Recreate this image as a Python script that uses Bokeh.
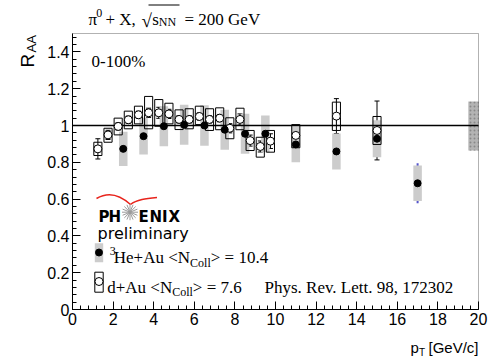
import math
from bokeh.plotting import figure
from bokeh.models import (Range1d, Label, Whisker, ColumnDataSource,
                          FixedTicker, TeeHead, Arrow, BoxAnnotation)
from bokeh.embed import file_html
from bokeh.resources import INLINE

# ---------------- data ----------------
dau_pt = [1.25, 1.75, 2.25, 2.75, 3.25, 3.75, 4.25, 4.75, 5.25, 5.75, 6.25,
          6.75, 7.25, 7.75, 8.25, 8.75, 9.25, 9.75, 11.0, 13.0, 15.0]
dau_r = [0.873, 0.949, 0.995, 1.031, 1.058, 1.069, 1.069, 1.063, 1.033, 1.033,
         1.049, 1.033, 1.040, 0.985, 1.033, 0.918, 0.886, 0.915, 0.946, 1.051, 0.973]
dau_sys_lo = [0.837, 0.909, 0.949, 0.982, 1.009, 0.982, 0.996, 1.009, 0.978, 0.982,
              1.005, 0.973, 0.977, 0.928, 0.977, 0.864, 0.828, 0.855, 0.879, 0.973, 0.897]
dau_sys_hi = [0.909, 0.985, 1.040, 1.078, 1.105, 1.158, 1.141, 1.121, 1.085, 1.091,
              1.105, 1.091, 1.096, 1.042, 1.094, 0.973, 0.936, 0.973, 1.005, 1.127, 1.049]
dau_stat = [0.055, 0.025, 0.02, 0.02, 0.02, 0.025, 0.03, 0.025, 0.02, 0.02,
            0.02, 0.02, 0.02, 0.025, 0.03, 0.03, 0.03, 0.04, 0.03, 0.095, 0.16]

he_pt = [2.5, 3.5, 4.5, 5.5, 6.5, 7.5, 8.5, 9.5, 11.0, 13.0, 15.0, 17.0]
he_r = [0.873, 0.942, 0.996, 1.004, 1.000, 0.977, 0.955, 0.955, 0.897, 0.859, 0.928, 0.686]
he_sys = [0.093, 0.10, 0.109, 0.109, 0.11, 0.109, 0.109, 0.10, 0.097, 0.098, 0.10, 0.097]
he_stat = [0.005, 0.005, 0.005, 0.005, 0.005, 0.008, 0.01, 0.012, 0.02, 0.035, 0.06, 0.109]

norm_pt = [19.75]
norm_lo = [0.864]
norm_hi = [1.130]

ref_x = [0, 20]
ref_y = [1.0, 1.0]

x_ticks = [0, 2, 4, 6, 8, 10, 12, 14, 16, 18, 20]
x_tick_labels = ["0", "2", "4", "6", "8", "10", "12", "14", "16", "18", "20"]
y_ticks = [0, 0.2, 0.4, 0.6, 0.8, 1.0, 1.2, 1.4]
y_tick_labels = ["0", "0.2", "0.4", "0.6", "0.8", "1", "1.2", "1.4"]

# ---------------- layout (canvas pixels) ----------------
W, H = 488, 360
FL, FR, FT, FB = 72, 478, 33, 309
XMIN, XMAX, YMIN, YMAX = 0.0, 20.0, 0.0, 1.5

def dx(px):
    return XMIN + (px - FL) / (FR - FL) * (XMAX - XMIN)

def dy(py):
    return YMIN + (FB - py) / (FB - FT) * (YMAX - YMIN)

p = figure(width=W, height=H, output_backend="svg", toolbar_location=None,
           x_range=Range1d(dx(0), dx(W)), y_range=Range1d(dy(H), dy(0)),
           min_border=0, min_border_left=0, min_border_right=0,
           min_border_top=0, min_border_bottom=0)
p.background_fill_color = "white"
p.border_fill_color = "white"
p.outline_line_color = None
p.xgrid.visible = False
p.ygrid.visible = False

minor_x = [0.4 * i for i in range(51)]
minor_y = [0.04 * i for i in range(38)]
p.xaxis.ticker = FixedTicker(ticks=x_ticks, minor_ticks=minor_x)
p.yaxis.ticker = FixedTicker(ticks=y_ticks, minor_ticks=minor_y)
p.xaxis.major_label_overrides = dict(zip(x_ticks, x_tick_labels))
p.yaxis.major_label_overrides = dict(zip(y_ticks, y_tick_labels))
p.xaxis.fixed_location = YMIN
p.yaxis.fixed_location = XMIN
p.xaxis.bounds = (XMIN, XMAX)
p.yaxis.bounds = (YMIN, YMAX)
for ax in (p.xaxis, p.yaxis):
    ax.major_tick_in = 8
    ax.major_tick_out = 0
    ax.minor_tick_in = 4
    ax.minor_tick_out = 0
    ax.axis_line_color = "black"
    ax.major_tick_line_color = "black"
    ax.minor_tick_line_color = "black"
    ax.major_label_text_font = "Liberation Sans"
    ax.major_label_text_font_size = "16px"
    ax.major_label_text_color = "black"
p.xaxis.major_label_standoff = 3
p.yaxis.major_label_standoff = 3

# frame box
p.add_layout(BoxAnnotation(left=XMIN, right=XMAX, bottom=YMIN, top=YMAX,
                           fill_alpha=0, line_color="black", line_width=1))

# ---------------- data marks ----------------
he_src = ColumnDataSource(dict(
    x=he_pt, y=he_r,
    l=[v - 0.21 for v in he_pt], r=[v + 0.21 for v in he_pt],
    b=[a - s for a, s in zip(he_r, he_sys)], t=[a + s for a, s in zip(he_r, he_sys)],
    el=[a - s for a, s in zip(he_r, he_stat)], eh=[a + s for a, s in zip(he_r, he_stat)]))
dau_src = ColumnDataSource(dict(
    x=dau_pt, y=dau_r,
    l=[v - 0.2 for v in dau_pt], r=[v + 0.2 for v in dau_pt],
    b=dau_sys_lo, t=dau_sys_hi,
    el=[a - s for a, s in zip(dau_r, dau_stat)], eh=[a + s for a, s in zip(dau_r, dau_stat)]))
norm_src = ColumnDataSource(dict(l=[v - 0.25 for v in norm_pt], r=[v + 0.25 for v in norm_pt],
                                 b=norm_lo, t=norm_hi))

p.quad(left="l", right="r", bottom="b", top="t", source=he_src,
       fill_color="#cccccc", line_color=None)
p.quad(left="l", right="r", bottom="b", top="t", source=norm_src,
       fill_color="#b4b4b4", line_color=None, hatch_pattern=".",
       hatch_color="#888888", hatch_scale=4)
p.line(ref_x, ref_y, line_color="black", line_width=1.5)

p.quad(left="l", right="r", bottom="b", top="t", source=dau_src,
       fill_color=None, line_color="black", line_width=1)
p.add_layout(Whisker(base="x", lower="el", upper="eh", source=dau_src,
                     line_color="black", line_width=1,
                     lower_head=TeeHead(size=5, line_color="black", line_width=1),
                     upper_head=TeeHead(size=5, line_color="black", line_width=1)))
p.add_layout(Whisker(base="x", lower="el", upper="eh", source=he_src,
                     line_color="#5555cc", line_width=2,
                     lower_head=None, upper_head=None))
p.scatter("x", "y", source=dau_src, marker="circle", size=8,
          fill_color="white", line_color="black", line_width=1)
p.scatter("x", "y", source=he_src, marker="circle", size=7,
          fill_color="black", line_color="black")

# ---------------- texts ----------------
SERIF = "Liberation Serif"
SANS = "Liberation Sans"

def txt(px, py, s, size, font=SERIF, align="left", baseline="alphabetic",
        angle=0.0, color="black", style="normal"):
    p.add_layout(Label(x=dx(px), y=dy(py), text=s, text_font=font,
                       text_font_size=f"{size}px", text_align=align,
                       text_baseline=baseline, angle=angle, text_color=color,
                       text_font_style=style))

TW = {' ': .25, '+': .564, ',': .25, '-': .333, '.': .25, '%': .833, '<': .564,
      '=': .564, '>': .564, 'A': .722, 'C': .667, 'H': .722, 'N': .722, 'a': .444,
      'd': .5, 'e': .444, 'l': .278, 'o': .5, 'u': .5}

def width(s, size):
    return sum(TW.get(c, .5) for c in s) * size

def chain(px, py, parts):
    x = px
    for s, size, off in parts:
        txt(x, py + off, s, size)
        x += width(s, size)

# title
txt(88, 18.5, "\u03c0", 17)
txt(95.7, 12.5, "0", 12)
txt(105, 18.5, "+ X,", 17)
txt(141, 19.5, "\u221a", 19)
txt(151.7, 18.5, "s", 17)
txt(158.3, 21, "NN", 12)
txt(184, 18.5, "= 200 GeV", 17)
p.add_layout(Arrow(x_start=dx(148), y_start=dy(4.5), x_end=dx(179), y_end=dy(4.5),
                   end=None, start=None, line_color="black", line_width=1))

# centrality
txt(91, 61, "0-100%", 17)

# PHENIX logo
p.bezier(x0=[dx(96), dx(130)], y0=[dy(198), dy(204)],
         x1=[dx(130), dx(156.5)], y1=[dy(204), dy(197)],
         cx0=[dx(106), dx(136)], cy0=[dy(192), dy(199)],
         cx1=[dx(118), dx(146)], cy1=[dy(193), dy(198)],
         line_color="#e8241c", line_width=1.5)
LOGO = "DejaVu Sans"
for ch, xp in zip(["P", "H", "E", "N", "I", "X"], [98, 108, 138, 149, 161.5, 168]):
    txt(xp, 216.7, ch, 15, font=LOGO, style="bold")
ray_a = [k * math.pi / 8 for k in range(8)]
p.segment(x0=[dx(129.5 - 8 * math.cos(a)) for a in ray_a],
          y0=[dy(211.7 - 8 * math.sin(a)) for a in ray_a],
          x1=[dx(129.5 + 8 * math.cos(a)) for a in ray_a],
          y1=[dy(211.7 + 8 * math.sin(a)) for a in ray_a],
          line_color="#9a9a9a", line_width=1)
txt(97, 233.3, "preliminary", 16, font=LOGO)

# legend entries
p.quad(left=[dx(94.3)], right=[dx(102.7)], bottom=[dy(261.7)], top=[dy(242.7)],
       fill_color="#cccccc", line_color=None)
p.scatter([dx(98.5)], [dy(252)], marker="circle", size=7, fill_color="black",
          line_color="black")
p.quad(left=[dx(94.3)], right=[dx(102.7)], bottom=[dy(291.7)], top=[dy(271.7)],
       fill_color=None, line_color="black", line_width=1)
p.scatter([dx(98.5)], [dy(281)], marker="circle", size=8, fill_color="white",
          line_color="black")

txt(109.3, 250.7, "3", 12)
chain(113.3, 257.3, [("He+Au <N", 17, 0), ("Coll", 12, 5), ("> = 10.4", 17, 0)])
chain(106.7, 286.7, [("d+Au <N", 17, 0), ("Coll", 12, 5), ("> = 7.6", 17, 0)])
txt(264, 286.7, "Phys. Rev. Lett. 98, 172302", 17)

# axis titles
txt(27, 67, "R", 19, font=SANS, angle=math.pi / 2)
txt(31, 52, "AA", 13, font=SANS, angle=math.pi / 2)
txt(410, 347, "p", 15, font=SANS)
txt(418.5, 352, "T", 10, font=SANS)
txt(478, 347, "[GeV/c]", 15, font=SANS, align="right")

open("out.html", "w").write(file_html(p, INLINE))
